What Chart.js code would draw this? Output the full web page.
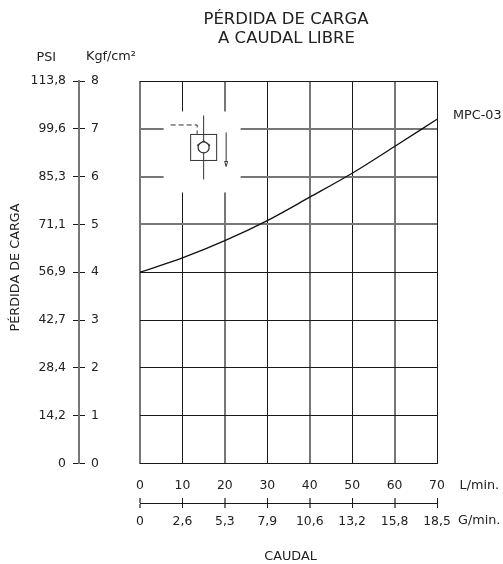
<!DOCTYPE html>
<html lang="en">
<head>
    <meta charset="UTF-8">
    <title>Pérdida de carga a caudal libre</title>
    <script src="https://cdn.jsdelivr.net/npm/chart.js"></script>
    <style>
        html, body { margin: 0; padding: 0; background: #fff; }
        canvas { display: block; }
    </style>
</head>
<body>
    <canvas id="lossChart" width="503" height="564"></canvas>

    <script>
        const caudalLmin = [0, 10, 20, 30, 40, 50, 60, 70];
        const caudalGmin = ['0', '2,6', '5,3', '7,9', '10,6', '13,2', '15,8', '18,5'];
        const psiLabels = ['0', '14,2', '28,4', '42,7', '56,9', '71,1', '85,3', '99,6', '113,8'];
        const kgfTicks = [0, 1, 2, 3, 4, 5, 6, 7, 8];
        const mpc03 = [4.0, 4.3, 4.66, 5.08, 5.57, 6.07, 6.63, 7.2];

        const FONT = '"DejaVu Sans", sans-serif';
        const TEXT = '#222';
        const DARK = '#1a1a1a';
        const SOFT = '#777';

        // the scan renders some grid lines thin and dark, others wide and grey
        const isSoftV = i => i < 7 && i % 2 === 0;
        const isSoftH = i => i >= 5 && i <= 7;

        const fixWidth = w => scale => { scale.width = w; };
        const fixHeight = h => scale => { scale.height = h; };

        // cut-out in the grid with the valve symbol, plus the loose captions
        const extras = {
            id: 'extras',
            beforeDatasetsDraw(chart) {
                const { ctx, scales } = chart;
                const cx = scales.x.getPixelForValue(15);
                const cy = scales.y.getPixelForValue(6.61);
                ctx.save();
                ctx.fillStyle = '#fff';
                ctx.fillRect(cx - 40, cy - 36, 77, 81);
                ctx.strokeStyle = '#333';
                ctx.lineWidth = 1;
                ctx.strokeRect(cx - 13, cy - 13, 26, 26);
                ctx.beginPath();
                ctx.moveTo(cx, cy - 32);
                ctx.lineTo(cx, cy + 32);
                ctx.stroke();
                ctx.fillRect(cx - 5, cy - 5, 10, 10);
                ctx.beginPath();
                ctx.arc(cx, cy, 5.5, 0, Math.PI * 2);
                ctx.moveTo(cx - 6.5, cy - 2);
                ctx.lineTo(cx, cy - 6.5);
                ctx.lineTo(cx + 6.5, cy - 2);
                ctx.lineWidth = 1.3;
                ctx.stroke();
                ctx.lineWidth = 1;
                ctx.setLineDash([5, 3]);
                ctx.beginPath();
                ctx.moveTo(cx - 33, cy - 22.5);
                ctx.lineTo(cx - 6.5, cy - 22.5);
                ctx.lineTo(cx - 6.5, cy - 13);
                ctx.stroke();
                ctx.setLineDash([]);
                ctx.beginPath();
                ctx.moveTo(cx + 22.5, cy - 15);
                ctx.lineTo(cx + 22.5, cy + 14);
                ctx.stroke();
                ctx.beginPath();
                ctx.moveTo(cx + 21, cy + 14);
                ctx.lineTo(cx + 24, cy + 14);
                ctx.lineTo(cx + 22.5, cy + 19);
                ctx.closePath();
                ctx.stroke();
                ctx.restore();
            },
            afterDraw(chart) {
                const { ctx } = chart;
                ctx.save();
                ctx.fillStyle = TEXT;
                ctx.textBaseline = 'middle';
                ctx.font = '16.5px ' + FONT;
                ctx.textAlign = 'center';
                ctx.fillText('PÉRDIDA DE CARGA', 286, 19.5);
                ctx.fillText('A CAUDAL LIBRE', 286.5, 39);
                ctx.font = '12.8px ' + FONT;
                ctx.fillText('CAUDAL', 290.5, 557);
                ctx.textAlign = 'left';
                ctx.fillText('PSI', 36.5, 58);
                ctx.fillText('Kgf/cm²', 86, 57);
                ctx.fillText('L/min.', 459.5, 485.5);
                ctx.fillText('G/min.', 458, 521);
                ctx.fillText('MPC-03', 453, 115.5);
                ctx.translate(16, 267.5);
                ctx.rotate(-Math.PI / 2);
                ctx.textAlign = 'center';
                ctx.fillText('PÉRDIDA DE CARGA', 0, 0);
                ctx.restore();
            }
        };

        const yBase = {
            min: 0,
            max: 8,
            afterBuildTicks: scale => { scale.ticks = kgfTicks.map(v => ({ value: v })); }
        };
        const xBase = {
            type: 'linear',
            min: 0,
            max: 70,
            afterBuildTicks: scale => { scale.ticks = caudalLmin.map(v => ({ value: v })); }
        };
        const vGrid = {
            color: c => isSoftV(c.index) ? SOFT : DARK,
            lineWidth: c => isSoftV(c.index) ? 2 : 1
        };

        new Chart(document.getElementById('lossChart'), {
            type: 'line',
            data: {
                labels: caudalLmin,
                datasets: [{
                    label: 'MPC-03',
                    data: mpc03,
                    borderColor: '#111',
                    borderWidth: 1.3,
                    pointRadius: 0,
                    cubicInterpolationMode: 'monotone'
                }]
            },
            options: {
                responsive: false,
                animation: false,
                layout: { padding: { top: 81, right: 66, bottom: 0, left: 0 } },
                plugins: {
                    legend: { display: false },
                    tooltip: { enabled: false }
                },
                scales: {
                    x: {
                        ...xBase,
                        afterFit: fixHeight(34.5),
                        grid: { ...vGrid, drawTicks: false },
                        border: { display: false },
                        ticks: {
                            color: TEXT, padding: 15, maxRotation: 0, autoSkip: false,
                            font: { family: FONT, size: 12.4 }
                        }
                    },
                    xRail: {
                        ...xBase,
                        axis: 'x',
                        position: 'bottom',
                        afterFit: fixHeight(5),
                        grid: { ...vGrid, drawOnChartArea: false, tickLength: 5 },
                        border: { display: false },
                        ticks: { display: false }
                    },
                    xG: {
                        ...xBase,
                        axis: 'x',
                        position: 'bottom',
                        afterFit: fixHeight(61),
                        grid: { ...vGrid, drawOnChartArea: false, tickLength: 5 },
                        border: { color: DARK },
                        ticks: {
                            color: TEXT, padding: 6, maxRotation: 0, autoSkip: false,
                            font: { family: FONT, size: 12.4 },
                            callback: (v, i) => caudalGmin[i]
                        }
                    },
                    y: {
                        ...yBase,
                        position: 'left',
                        afterFit: fixWidth(55),
                        grid: {
                            color: c => isSoftH(c.index) ? SOFT : DARK,
                            lineWidth: c => isSoftH(c.index) ? 2 : 1,
                            drawTicks: false
                        },
                        border: { display: false },
                        ticks: {
                            color: TEXT, padding: 41, crossAlign: 'near',
                            font: { family: FONT, size: 12.4 },
                            callback: v => v
                        }
                    },
                    yRail: {
                        ...yBase,
                        axis: 'y',
                        position: 'left',
                        weight: 1,
                        afterFit: fixWidth(6),
                        grid: { color: DARK, drawOnChartArea: false, tickLength: 6 },
                        border: { display: false },
                        ticks: { display: false }
                    },
                    yPsi: {
                        ...yBase,
                        axis: 'y',
                        position: 'left',
                        weight: 2,
                        afterFit: fixWidth(79),
                        grid: { color: DARK, drawOnChartArea: false, tickLength: 6 },
                        border: { color: SOFT, width: 2 },
                        ticks: {
                            color: TEXT, padding: 7, crossAlign: 'near',
                            font: { family: FONT, size: 12.4 },
                            callback: (v, i) => psiLabels[i]
                        }
                    }
                }
            },
            plugins: [extras]
        });
    </script>
</body>
</html>
